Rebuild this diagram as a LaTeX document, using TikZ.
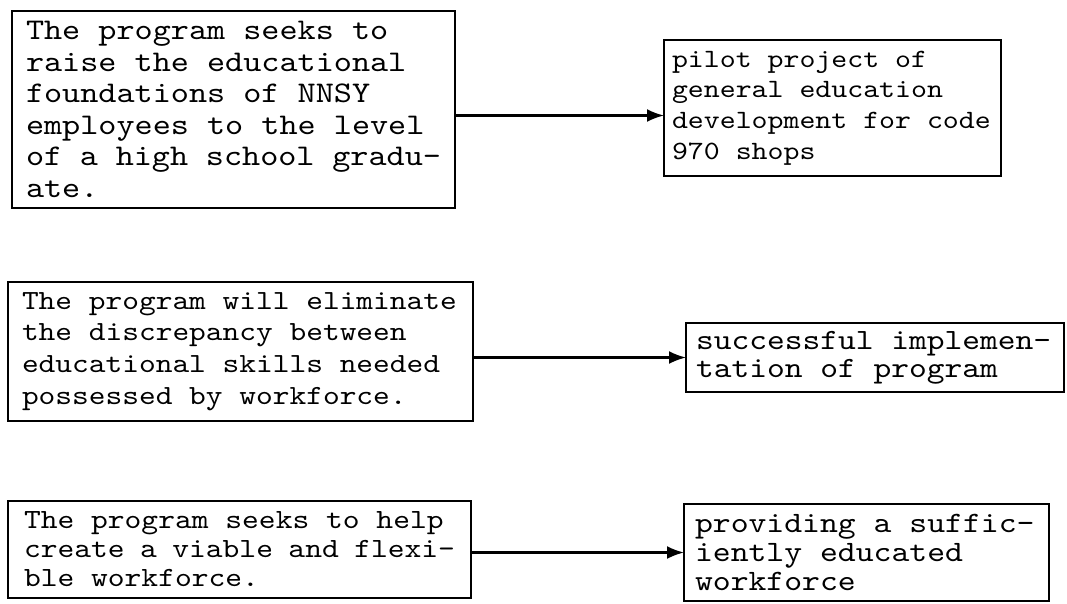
\documentclass[tikz,border=0pt]{standalone}
\usepackage{fontspec}
\newfontfamily\twfont[FakeStretch=1.15]{lmmono10-regular.otf}
\usetikzlibrary{arrows.meta,calc}
\begin{document}
\begin{tikzpicture}[x=1pt,y=-1pt,
  box/.style={draw, line width=2.7pt, anchor=north west, align=flush left,
    inner ysep=0pt, outer sep=0pt},
  conn/.style={line width=2.2pt, -{Latex[length=17pt,width=13pt]}}]
\useasboundingbox (0,0) rectangle (1067,603);
\node[box, inner xsep=14pt, text width=415pt, minimum height=197pt,
  font=\fontsize{30}{31.6}\selectfont\twfont] (b1) at (12,11)
  {The program seeks to\\raise the educational\\foundations of NNSY\\employees to the level\\of a high school gradu-\\ate.};
\node[box, inner xsep=8pt, text width=321pt, minimum height=136pt,
  font=\fontsize{26.4}{30.7}\selectfont\twfont] (b2) at (664,40)
  {pilot project of\\general education\\development for code\\970 shops};
\node[box, inner xsep=14pt, text width=437pt, minimum height=139pt,
  font=\fontsize{27.7}{31.7}\selectfont\twfont] (b3) at (8,282)
  {The program will eliminate\\the discrepancy between\\educational skills needed\\possessed by workforce.};
\node[box, inner xsep=10pt, text width=358pt, minimum height=69pt,
  font=\fontsize{29.4}{28}\selectfont\twfont] (b4) at (686,323)
  {successful implemen-\\tation of program};
\node[box, inner xsep=16pt, text width=431pt, minimum height=97pt,
  font=\fontsize{27.8}{29}\selectfont\twfont] (b5) at (8,501)
  {The program seeks to help\\create a viable and flexi-\\ble workforce.};
\node[box, inner xsep=11pt, text width=343pt, minimum height=97pt,
  font=\fontsize{29.6}{29}\selectfont\twfont] (b6) at (684,504)
  {providing a suffic-\\iently educated\\workforce};
\draw[conn] ([yshift=-6pt]b1.east) -- ([yshift=-6pt]b1.east -| b2.west);
\draw[conn] (b3.east |- b4.west) -- (b4.west);
\draw[conn] (b5.east |- b6.west) -- (b6.west);
\end{tikzpicture}
\end{document}
